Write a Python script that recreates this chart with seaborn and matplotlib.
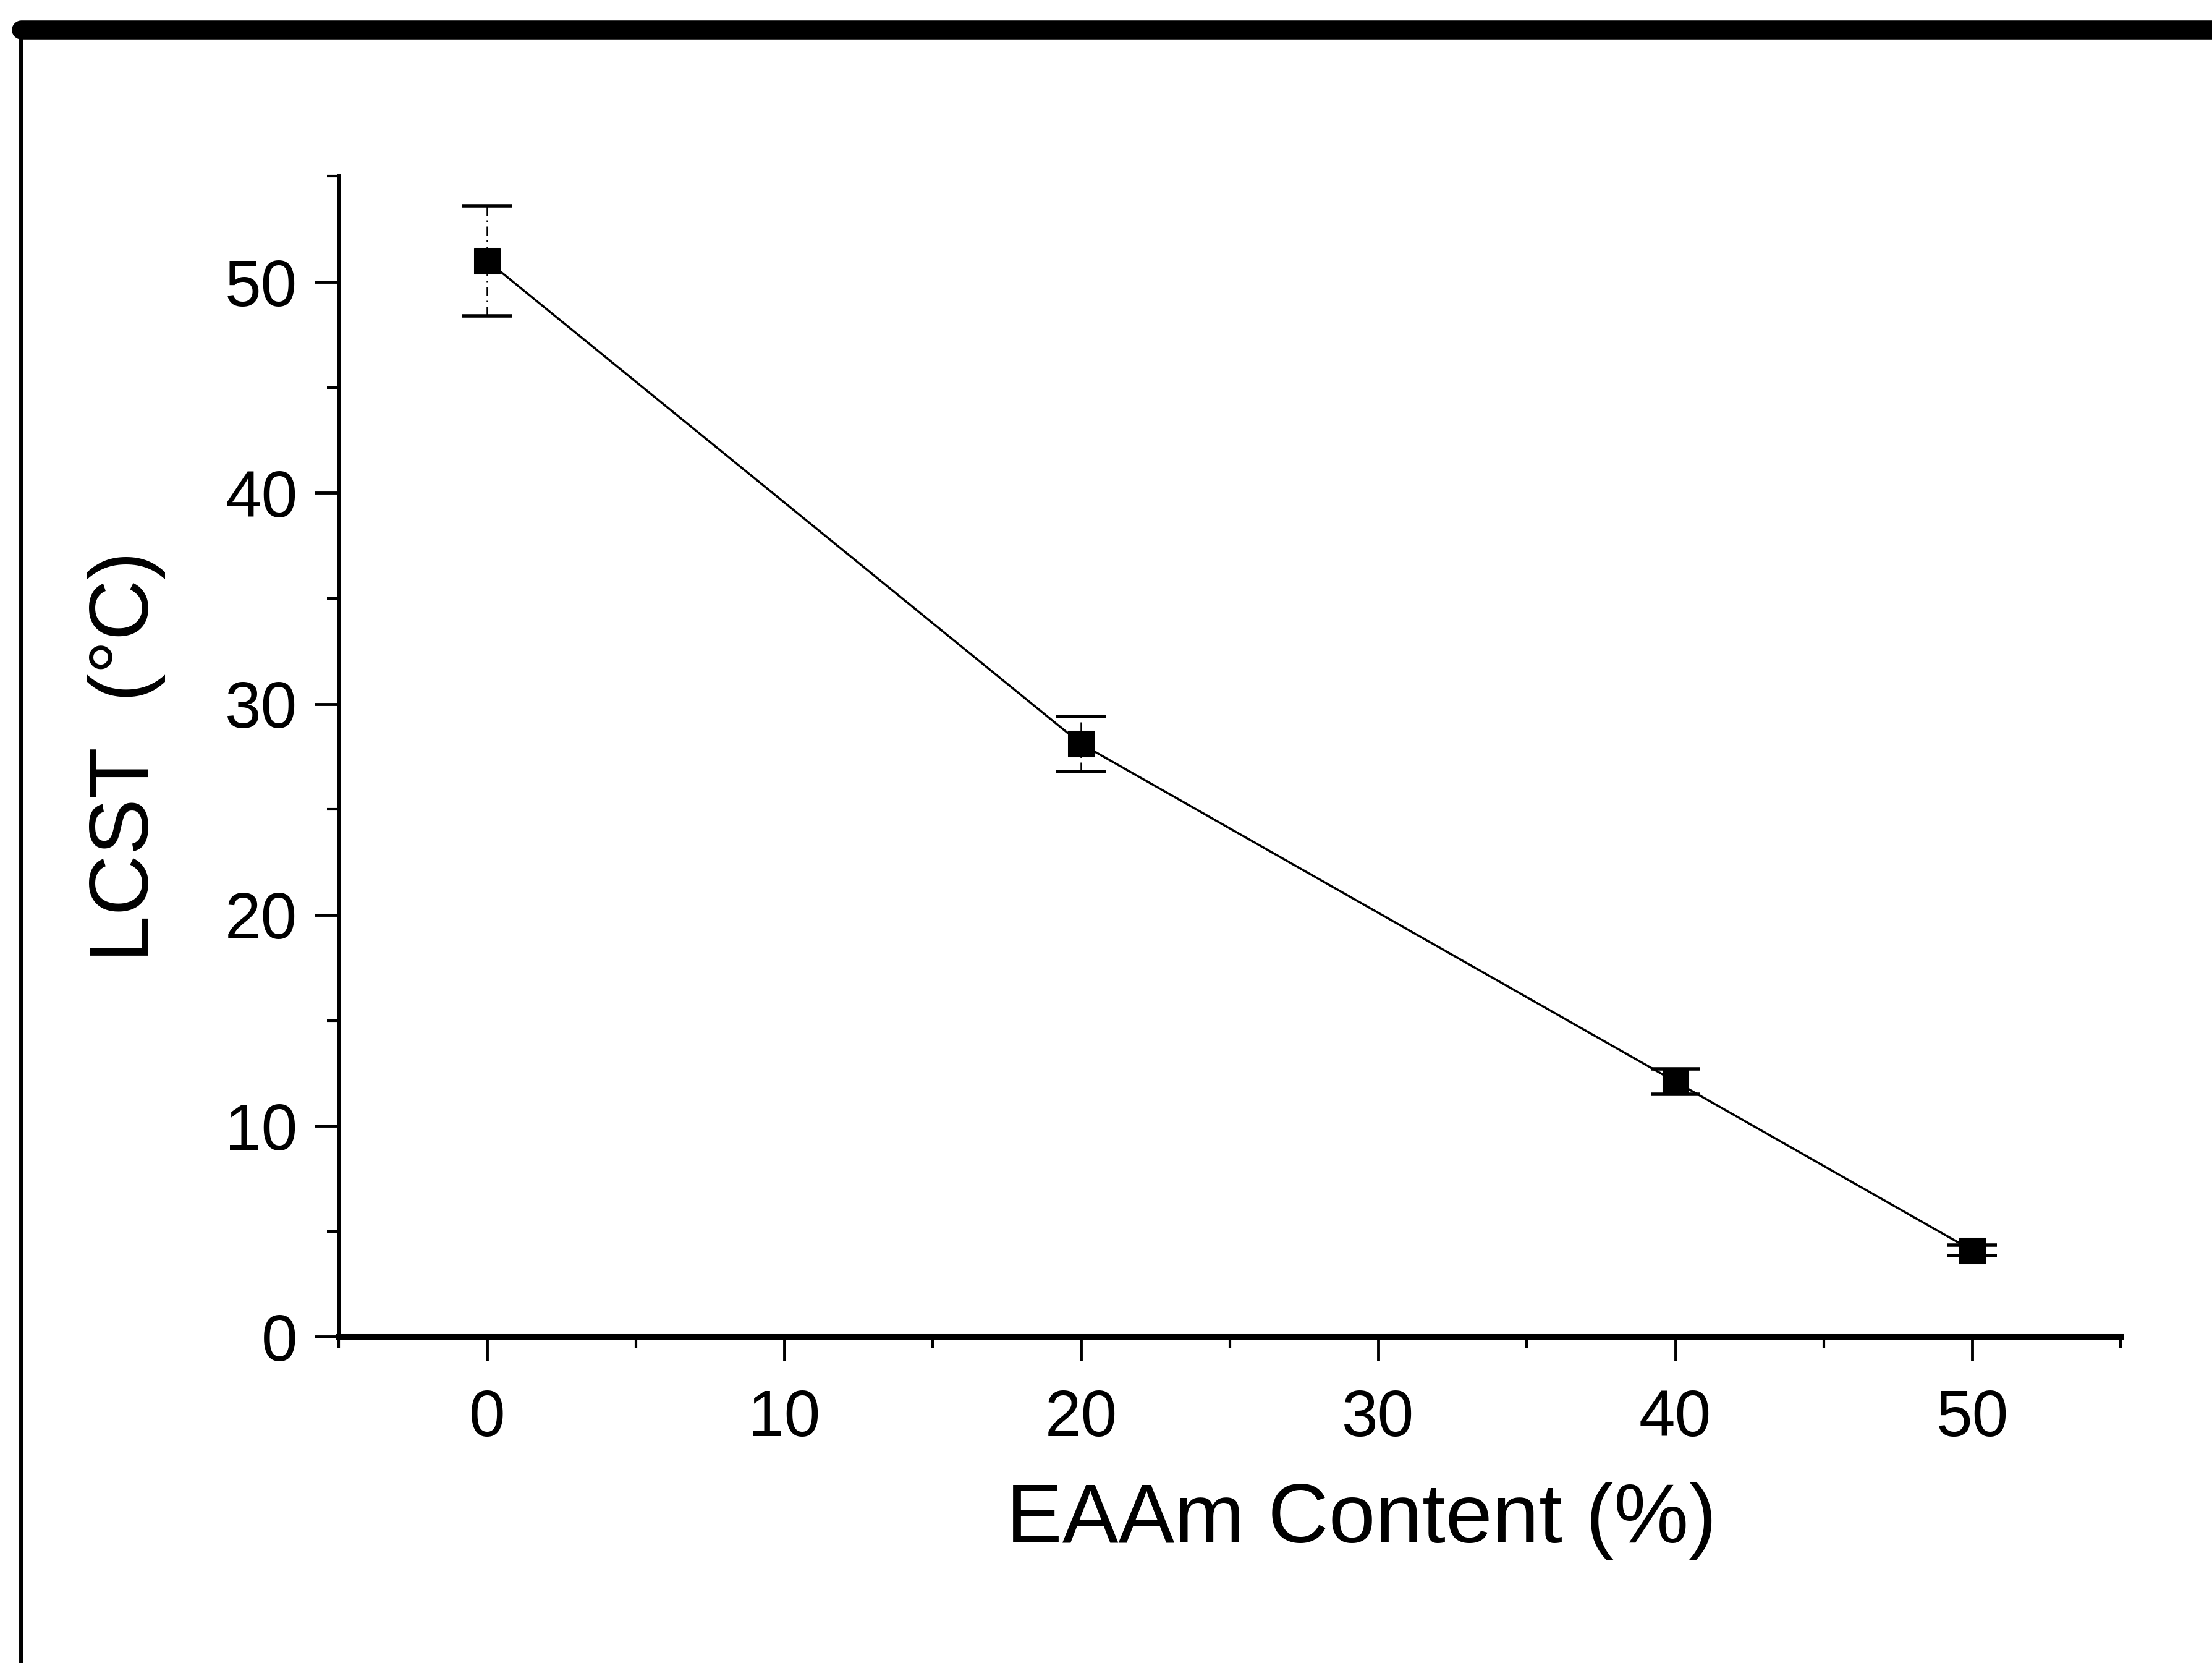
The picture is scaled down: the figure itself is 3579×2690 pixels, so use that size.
import matplotlib
matplotlib.use("Agg")
import matplotlib.pyplot as plt
import seaborn as sns
import pandas as pd
from matplotlib.patches import Rectangle
from matplotlib.ticker import MultipleLocator

# Data
eaam_content = [0, 20, 40, 50]
lcst = [51.0, 28.1, 12.1, 4.1]
lcst_err = [2.6, 1.3, 0.6, 0.25]
x_ticks = [0, 10, 20, 30, 40, 50]
y_ticks = [0, 10, 20, 30, 40, 50]
x_label = "EAAm Content (%)"
y_label = "LCST  (\u00b0C)"

df = pd.DataFrame({"x": eaam_content, "y": lcst, "err": lcst_err})

sns.set_style("white")
plt.rcParams["font.family"] = ["Liberation Sans", "DejaVu Sans"]

fig = plt.figure(figsize=(35.8, 26.9), dpi=100)
ax = fig.add_axes([0.1531, 0.1961, 0.8054, 0.6978])

# frame border (scanned page border)
fig.patches.append(Rectangle((0.0096, -0.05), 1.2, 1.033, transform=fig.transFigure,
                             fill=False, edgecolor="black", linewidth=5, zorder=0))
fig.add_artist(plt.Line2D([0.0096, 1.0], [0.982, 0.982], transform=fig.transFigure,
                          color="black", linewidth=22))

eb = ax.errorbar(df["x"], df["y"], yerr=df["err"], fmt="none", ecolor="black",
                 elinewidth=1.8, capsize=29, capthick=4, zorder=2)
for coll in eb[2]:
    coll.set_linestyle((0, (6, 3, 1, 3)))
sns.lineplot(data=df, x="x", y="y", ax=ax, color="black", linewidth=2.5,
             marker="s", markersize=30, markeredgecolor="black",
             markerfacecolor="black", zorder=3)

ax.set_xlim(-5, 55)
ax.set_ylim(0, 55)
ax.set_xticks(x_ticks)
ax.set_yticks(y_ticks)
ax.xaxis.set_minor_locator(MultipleLocator(5))
ax.yaxis.set_minor_locator(MultipleLocator(5))
ax.tick_params(which="major", direction="out", length=28, width=3.5,
               labelsize=76, color="black", labelcolor="black")
ax.tick_params(axis="x", which="major", pad=32)
ax.tick_params(axis="y", which="major", pad=20)
ax.tick_params(which="minor", direction="out", length=14, width=3, color="black")
ax.tick_params(axis="both", which="both", bottom=True, left=True, top=False, right=False)

for side in ["top", "right"]:
    ax.spines[side].set_visible(False)
ax.spines["left"].set_linewidth(5)
ax.spines["bottom"].set_linewidth(6.5)
ax.spines["left"].set_color("black")
ax.spines["bottom"].set_color("black")

ax.set_xlabel(x_label, fontsize=98, color="black")
ax.xaxis.set_label_coords(0.574, -0.125)
ax.set_ylabel(y_label, fontsize=98, color="black")
ax.yaxis.set_label_coords(-0.097, 0.5)

fig.savefig("out.png", dpi=100, facecolor="white")
